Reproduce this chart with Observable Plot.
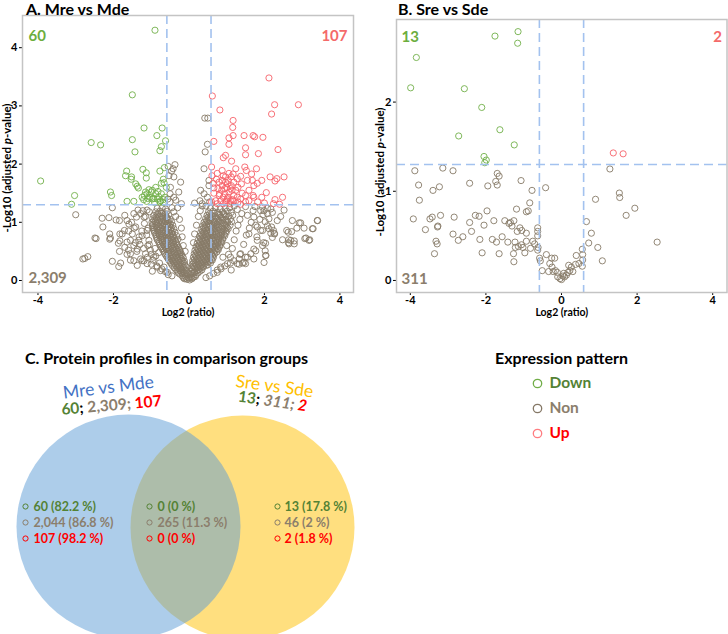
<!DOCTYPE html>
<html>
<head>
<meta charset="utf-8">
<script src="https://cdn.jsdelivr.net/npm/d3@7"></script>
<script src="https://cdn.jsdelivr.net/npm/@observablehq/plot@0.6"></script>
<style>
  body { margin: 0; background: #fff; }
  #fig { position: relative; width: 728px; height: 634px; overflow: hidden; font-family: Lato, "Open Sans", sans-serif; }
  .title { position: absolute; font-weight: bold; color: #000; white-space: nowrap; line-height: 1.15; }
  .panel { position: absolute; }
</style>
</head>
<body>
<div id="fig"></div>
<script>
// ---------- values ----------
const ratioTicks = [-4, -2, 0, 2, 4];
const mreYTicks = [0, 1, 2, 3, 4];
const sreYTicks = [0, 1, 2];
const foldCut = 0.585;   // log2(1.5)
const pCut = 1.301;      // -log10(0.05)
const patterns = ["Down", "Non", "Up"];
const mreCounts = [60, 2309, 107];
const sreCounts = [13, 311, 2];
const groups = ["Mre vs Mde", "Sre vs Sde"];
const onlyMre = [60, 2044, 107];
const onlyMrePct = [82.2, 86.8, 98.2];
const shared = [0, 265, 0];
const sharedPct = [0, 11.3, 0];
const onlySre = [13, 46, 2];
const onlySrePct = [17.8, 2, 1.8];

// Mre vs Mde: [log2 ratio, -log10 adjusted p]
const mreDown = [[-0.90,4.30],[-1.50,3.19],[-2.59,2.37],[-2.34,2.33],[-1.19,2.62],[-0.71,2.62],[-0.85,2.49],[-1.50,2.42],[-0.62,2.40],[-0.73,2.30],[-0.77,2.23],[-1.43,2.21],[-3.93,1.71],[-3.03,1.46],[-3.11,1.31],[-2.08,1.52],[-2.05,1.46],[-1.65,1.88],[-1.68,1.80],[-1.52,1.78],[-1.53,1.74],[-1.22,1.91],[-1.13,1.85],[-1.13,1.76],[-1.41,1.66],[-1.37,1.62],[-1.34,1.59],[-0.77,1.88],[-0.68,1.74],[-0.66,1.68],[-1.64,1.36],[-1.46,1.36],[-1.18,1.46],[-1.20,1.39],[-1.11,1.49],[-1.00,1.52],[-1.04,1.43],[-0.93,1.41],[-0.88,1.49],[-0.82,1.53],[-0.80,1.44],[-0.75,1.37],[-0.68,1.39],[-0.64,1.43],[-0.91,1.34],[-1.12,1.36],[-0.68,1.34],[-0.65,1.94],[-0.97,1.55],[-1.06,1.56],[-1.24,1.43],[-0.84,1.40],[-0.73,1.67],[-1.09,1.41],[-0.60,1.60],[-0.73,1.49],[-0.88,1.60],[-0.97,1.40],[-0.77,1.35],[-1.15,1.52]];
const mreUp = [[2.12,3.48],[0.62,3.17],[2.27,3.02],[2.90,3.02],[2.19,2.86],[0.82,2.93],[1.17,2.75],[1.16,2.63],[1.17,2.49],[1.06,2.45],[0.66,2.39],[1.46,2.49],[1.70,2.49],[1.74,2.47],[1.96,2.46],[1.06,2.34],[1.50,2.28],[2.36,2.25],[1.50,2.16],[1.84,2.18],[0.97,2.15],[0.91,2.11],[0.60,1.95],[1.13,2.05],[1.48,1.95],[1.52,1.89],[1.79,1.92],[0.88,1.89],[1.06,1.84],[0.91,1.80],[1.12,1.78],[1.37,1.79],[2.15,1.78],[2.52,1.78],[1.93,1.72],[2.33,1.75],[2.28,1.71],[1.55,1.72],[1.39,1.66],[1.72,1.63],[1.81,1.67],[0.73,1.74],[0.80,1.69],[0.64,1.67],[0.97,1.69],[1.19,1.69],[0.88,1.63],[1.00,1.60],[1.10,1.58],[1.24,1.55],[1.30,1.60],[1.59,1.55],[0.66,1.50],[0.80,1.46],[0.95,1.49],[1.06,1.52],[1.03,1.43],[1.19,1.46],[1.50,1.46],[1.70,1.46],[2.05,1.51],[2.48,1.43],[2.28,1.39],[2.24,1.32],[2.40,1.31],[2.00,1.33],[1.82,1.35],[1.59,1.37],[1.50,1.35],[1.30,1.35],[1.10,1.37],[0.97,1.36],[0.84,1.37],[0.71,1.37],[0.60,1.35],[0.91,1.43],[1.00,1.37],[1.12,1.63],[1.28,1.43],[1.41,1.50],[0.66,1.59],[0.77,1.58],[0.87,1.55],[0.97,1.78],[1.17,1.83],[1.04,1.72],[1.28,1.75],[1.66,1.83],[1.72,1.43],[1.02,1.66],[0.88,1.72],[1.09,1.32],[1.19,1.37],[1.37,1.40],[0.75,1.32],[0.91,1.32],[1.93,1.43],[1.68,1.72],[1.24,1.92],[0.75,1.84],[0.61,1.80],[1.14,1.55],[0.81,1.49],[1.02,1.40],[1.15,1.39],[0.95,1.58],[1.37,1.31]];
const mreNonOuter = [[-3.00,1.13],[-2.30,1.07],[-2.12,1.08],[-1.93,1.04],[-1.84,1.03],[-1.64,1.03],[-2.28,0.92],[-2.49,0.73],[-2.46,0.72],[-2.10,0.80],[-2.08,0.73],[-1.77,0.80],[-1.71,0.86],[-1.83,0.68],[-1.64,0.66],[-1.70,0.57],[-1.84,0.50],[-2.81,0.37],[-2.76,0.38],[-2.68,0.41],[-2.03,0.33],[-1.86,0.24],[-1.81,0.30],[-1.64,0.45],[-1.46,0.34],[-1.28,0.37],[-1.19,0.34],[-0.97,0.16],[-1.55,0.46],[-1.50,0.80],[-1.41,0.92],[-1.59,0.97],[-1.39,1.09],[-1.46,1.15],[-1.28,1.15],[-1.19,1.09],[-1.35,1.21],[-1.11,1.21],[-2.03,1.25],[-1.55,0.69],[-1.46,0.60],[-1.37,0.54],[-1.33,0.69],[-1.24,0.77],[-1.11,0.86],[-1.06,0.69],[-1.02,0.52],[-0.93,0.40],[-1.15,0.46],[-1.09,0.60],[-2.10,0.71],[-1.87,0.64],[-1.60,0.52],[-1.83,0.80],[-0.84,0.23],[-0.75,0.17],[-0.66,0.23],[-0.57,0.14],[-1.11,0.29],[-1.24,0.34],[-1.37,0.26],
  [-0.55,1.96],[-0.46,1.88],[-0.37,1.99],[-0.42,1.92],[-0.22,1.69],[-0.53,1.80],[-0.40,1.78],[-0.50,1.49],[-0.40,1.43],[-0.27,1.52],[-0.49,1.60],[0.42,2.79],[0.50,2.79],[0.49,2.34],[0.43,2.21],[0.40,1.92],[0.53,1.72],[0.31,1.55],[0.40,1.49],[0.53,1.63],[0.49,1.43],[0.29,1.37],[-0.50,1.35],[-0.35,1.38],[-0.20,1.32],[0.15,1.33],[0.35,1.32],[-0.56,1.40],[0.55,1.35],
  [3.41,1.03],[3.27,0.89],[3.29,0.89],[3.05,0.90],[2.92,0.99],[2.86,0.90],[3.10,0.73],[3.20,0.70],[2.64,0.70],[2.64,0.65],[2.79,0.68],[2.79,0.63],[2.48,0.70],[2.72,0.84],[2.74,1.03],[1.99,0.31],[2.03,0.43],[2.02,0.51],[1.95,0.60],[1.98,0.65],[1.77,0.51],[1.64,0.46],[1.50,0.40],[1.46,0.31],[1.33,0.28],[2.21,0.74],[2.17,0.81],[2.26,0.81],[2.12,0.89],[2.19,0.92],[2.08,0.94],[1.95,0.86],[1.81,0.92],[1.77,0.95],[2.02,1.01],[2.12,1.06],[1.96,1.13],[1.99,1.20],[2.08,1.24],[2.21,1.17],[2.52,1.21],[2.27,0.80],[2.24,0.86],[2.34,1.03],[2.03,0.64],[1.72,0.54],[1.59,0.80],[1.81,0.69],[1.37,0.46],[1.28,0.29],[1.72,0.37],[1.90,0.86],[1.72,1.09],[2.08,1.15],[1.90,1.20],[2.17,1.23],[2.43,1.10],[2.63,0.83],[2.70,0.69],[2.59,0.86],[2.96,0.99],[3.40,1.03],[3.07,0.72],[3.18,0.69],[2.65,0.63],[1.19,0.34],[1.02,0.29],[0.84,0.23],[1.55,0.40],[1.50,0.29],[1.33,0.37],[1.10,0.40],[0.75,0.14],[2.04,0.43]];
const mreNonMid = [[-1.05,0.62],[-1.12,0.78],[-1.20,0.55],[-1.00,0.45],[-0.95,0.35],[-0.90,0.55],[-1.08,0.90],[-1.18,0.98],[-1.25,0.85],[-1.30,0.62],[-1.38,0.50],[-1.32,0.75],[-1.15,1.10],[-1.05,1.18],[-1.22,1.20],[-0.85,0.25],[-0.78,0.30],[-0.72,0.20],[-0.62,0.15],[-0.55,0.10],[-0.45,0.08],[-0.88,0.42],[-0.80,0.48],[-1.00,0.28],[-1.10,0.40],[-1.45,0.90],[-1.52,1.00],[-1.42,0.65],[-1.60,0.85],[-1.70,1.12],[-1.55,0.35],[-0.35,1.10],[-0.40,1.18],[-0.30,1.25],[-0.45,1.25],[-0.25,1.05],[-0.20,0.90],[-0.18,0.75],[-0.15,0.60],[-0.10,0.50],
  [1.10,0.30],[1.05,0.45],[1.15,0.55],[1.20,0.70],[1.25,0.85],[1.30,0.95],[1.35,1.05],[1.40,1.15],[1.28,1.22],[1.45,0.62],[1.52,0.78],[1.60,0.90],[1.65,1.00],[1.55,1.12],[1.70,1.20],[1.80,0.75],[1.88,1.05],[0.95,0.25],[0.85,0.20],[0.75,0.18],[0.65,0.12],[0.55,0.08],[0.45,0.05],[0.90,0.40],[1.00,0.60],[1.35,0.45],[1.42,0.30],[1.12,0.18],[0.20,0.95],[0.15,0.80],[0.12,0.65],[0.25,1.10],[0.30,1.20],[0.35,1.28],[0.45,1.28],[1.20,1.28],[1.50,1.27],[1.75,1.27],[1.95,1.26]];
const mreNonCore = [[-0.12,0.03],[-0.05,0.02],[0.02,0.01],[0.08,0.03],[-0.09,0.07],[0.05,0.06],[0.13,0.06],[-0.18,0.08],[-0.02,0.05],
  [-0.24,0.11],[-0.16,0.12],[-0.08,0.10],[0.04,0.10],[0.11,0.12],[0.19,0.10],
  [-0.31,0.16],[-0.23,0.17],[-0.15,0.15],[-0.07,0.17],[0.06,0.16],[0.14,0.15],[0.22,0.17],[0.29,0.16],
  [-0.39,0.22],[-0.31,0.23],[-0.22,0.21],[-0.14,0.22],[-0.07,0.23],[0.07,0.21],[0.15,0.23],[0.23,0.22],[0.31,0.21],[0.38,0.23],
  [-0.46,0.28],[-0.38,0.29],[-0.29,0.27],[-0.20,0.28],[-0.12,0.29],[0.09,0.28],[0.17,0.29],[0.26,0.27],[0.34,0.28],[0.43,0.29],[0.50,0.27],
  [-0.52,0.34],[-0.44,0.35],[-0.36,0.33],[-0.27,0.34],[-0.19,0.35],[-0.12,0.33],[0.10,0.34],[0.19,0.35],[0.27,0.33],[0.36,0.34],[0.45,0.35],[0.54,0.33],[0.62,0.35],
  [-0.58,0.40],[-0.50,0.41],[-0.41,0.39],[-0.33,0.40],[-0.24,0.41],[-0.15,0.39],[0.12,0.40],[0.20,0.41],[0.29,0.39],[0.38,0.40],[0.47,0.41],[0.56,0.39],[0.65,0.40],
  [-0.64,0.46],[-0.55,0.47],[-0.46,0.45],[-0.38,0.46],[-0.29,0.47],[-0.20,0.45],[0.14,0.46],[0.23,0.47],[0.32,0.45],[0.41,0.46],[0.50,0.47],[0.59,0.45],[0.68,0.46],
  [-0.69,0.52],[-0.60,0.53],[-0.51,0.51],[-0.42,0.52],[-0.33,0.53],[-0.24,0.51],[0.16,0.52],[0.25,0.53],[0.34,0.51],[0.43,0.52],[0.52,0.53],[0.61,0.51],[0.70,0.52],[0.78,0.53],
  [-0.74,0.58],[-0.65,0.59],[-0.56,0.57],[-0.47,0.58],[-0.38,0.59],[-0.28,0.57],[0.19,0.58],[0.28,0.59],[0.37,0.57],[0.46,0.58],[0.55,0.59],[0.64,0.57],[0.73,0.58],[0.82,0.59],
  [-0.79,0.64],[-0.70,0.65],[-0.61,0.63],[-0.52,0.64],[-0.42,0.65],[-0.32,0.63],[0.22,0.64],[0.31,0.65],[0.40,0.63],[0.49,0.64],[0.58,0.65],[0.67,0.63],[0.76,0.64],[0.86,0.65],
  [-0.84,0.70],[-0.74,0.71],[-0.65,0.69],[-0.56,0.70],[-0.46,0.71],[-0.36,0.69],[-0.29,0.71],[0.25,0.70],[0.34,0.71],[0.43,0.69],[0.52,0.70],[0.61,0.71],[0.70,0.69],[0.80,0.70],[0.90,0.71],
  [-0.87,0.76],[-0.78,0.77],[-0.69,0.75],[-0.59,0.76],[-0.50,0.77],[-0.41,0.75],[-0.33,0.77],[0.28,0.76],[0.37,0.77],[0.46,0.75],[0.55,0.76],[0.64,0.77],[0.74,0.75],[0.84,0.76],[0.95,0.77],
  [-0.91,0.82],[-0.82,0.83],[-0.72,0.81],[-0.63,0.82],[-0.54,0.83],[-0.45,0.81],[-0.37,0.83],[0.31,0.82],[0.40,0.83],[0.49,0.81],[0.58,0.82],[0.68,0.83],[0.78,0.81],[0.88,0.82],[0.99,0.83],
  [-0.94,0.88],[-0.85,0.89],[-0.76,0.87],[-0.66,0.88],[-0.57,0.89],[-0.48,0.87],[-0.40,0.89],[0.34,0.88],[0.43,0.89],[0.52,0.87],[0.62,0.88],[0.72,0.89],[0.82,0.87],[0.93,0.88],[1.04,0.89],
  [-0.97,0.94],[-0.87,0.95],[-0.78,0.93],[-0.69,0.94],[-0.60,0.95],[-0.51,0.93],[-0.43,0.95],[0.37,0.94],[0.46,0.95],[0.56,0.93],[0.66,0.94],[0.76,0.95],[0.87,0.93],[0.98,0.94],[1.09,0.95],
  [-0.98,1.00],[-0.89,1.01],[-0.80,0.99],[-0.71,1.00],[-0.62,1.01],[-0.53,0.99],[-0.46,1.01],[0.40,1.00],[0.50,1.01],[0.60,0.99],[0.70,1.00],[0.81,1.01],[0.92,0.99],[1.03,1.00],[1.13,1.01],
  [-0.96,1.06],[-0.86,1.07],[-0.76,1.05],[-0.67,1.06],[-0.58,1.07],[-0.50,1.05],[0.44,1.06],[0.55,1.07],[0.65,1.05],[0.76,1.06],[0.87,1.07],[0.98,1.05],[1.10,1.06],
  [-0.93,1.12],[-0.82,1.13],[-0.72,1.11],[-0.62,1.12],[-0.54,1.13],[0.48,1.12],[0.59,1.13],[0.70,1.11],[0.82,1.12],[0.94,1.13],[1.06,1.11],[1.16,1.12],
  [-0.88,1.18],[-0.77,1.19],[-0.67,1.17],[-0.58,1.19],[0.52,1.18],[0.64,1.19],[0.76,1.17],[0.89,1.18],[1.01,1.19],[1.12,1.17],
  [-0.84,1.24],[-0.71,1.25],[-0.62,1.23],[0.57,1.24],[0.70,1.25],[0.83,1.23],[0.96,1.24],[1.08,1.25]];
const mreNonFill = [[-0.15,0.05],[-0.08,0.04],[0.00,0.04],[0.09,0.05],[0.17,0.07],
  [-0.28,0.13],[-0.20,0.14],[-0.12,0.13],[-0.04,0.12],[0.08,0.13],[0.15,0.14],[0.24,0.13],
  [-0.35,0.19],[-0.27,0.20],[-0.19,0.19],[-0.11,0.18],[0.10,0.19],[0.18,0.20],[0.26,0.19],[0.34,0.18],
  [-0.43,0.25],[-0.35,0.26],[-0.26,0.25],[-0.18,0.24],[-0.10,0.26],[0.11,0.25],[0.20,0.26],[0.29,0.24],[0.38,0.25],[0.46,0.26],
  [-0.49,0.31],[-0.41,0.32],[-0.32,0.30],[-0.24,0.31],[-0.16,0.32],[0.13,0.31],[0.22,0.32],[0.31,0.30],[0.40,0.31],[0.49,0.32],[0.57,0.30],
  [-0.55,0.37],[-0.47,0.38],[-0.38,0.36],[-0.30,0.37],[-0.21,0.38],[0.15,0.37],[0.24,0.38],[0.33,0.36],[0.42,0.37],[0.51,0.38],[0.60,0.36],
  [-0.61,0.43],[-0.52,0.44],[-0.43,0.42],[-0.34,0.43],[-0.25,0.44],[-0.18,0.42],[0.17,0.43],[0.27,0.44],[0.36,0.42],[0.45,0.43],[0.54,0.44],[0.63,0.42],
  [-0.66,0.49],[-0.57,0.50],[-0.48,0.48],[-0.39,0.49],[-0.30,0.50],[-0.22,0.48],[0.20,0.49],[0.29,0.50],[0.38,0.48],[0.47,0.49],[0.56,0.50],[0.65,0.48],[0.74,0.49],
  [-0.71,0.55],[-0.62,0.56],[-0.53,0.54],[-0.44,0.55],[-0.35,0.56],[-0.26,0.54],[0.23,0.55],[0.32,0.56],[0.41,0.54],[0.50,0.55],[0.59,0.56],[0.68,0.54],[0.77,0.55],
  [-0.76,0.61],[-0.67,0.62],[-0.58,0.60],[-0.49,0.61],[-0.40,0.62],[-0.31,0.60],[0.26,0.61],[0.35,0.62],[0.44,0.60],[0.53,0.61],[0.62,0.62],[0.71,0.60],[0.81,0.61],
  [-0.80,0.67],[-0.71,0.68],[-0.61,0.66],[-0.52,0.67],[-0.43,0.68],[-0.34,0.66],[0.29,0.67],[0.38,0.68],[0.47,0.66],[0.57,0.67],[0.66,0.68],[0.75,0.66],[0.85,0.67],
  [-0.85,0.73],[-0.75,0.74],[-0.66,0.72],[-0.56,0.73],[-0.47,0.74],[-0.38,0.72],[0.31,0.73],[0.41,0.74],[0.50,0.72],[0.60,0.73],[0.69,0.74],[0.79,0.72],[0.89,0.73],
  [-0.88,0.79],[-0.79,0.80],[-0.69,0.78],[-0.60,0.79],[-0.51,0.80],[-0.42,0.78],[0.34,0.79],[0.44,0.80],[0.53,0.78],[0.63,0.79],[0.73,0.80],[0.83,0.78],[0.93,0.79],
  [-0.92,0.85],[-0.82,0.86],[-0.72,0.84],[-0.62,0.85],[-0.53,0.86],[-0.44,0.84],[0.37,0.85],[0.47,0.86],[0.57,0.84],[0.67,0.85],[0.77,0.86],[0.87,0.84],[0.98,0.85],
  [-0.95,0.91],[-0.85,0.92],[-0.75,0.90],[-0.65,0.91],[-0.56,0.92],[-0.47,0.90],[0.40,0.91],[0.50,0.92],[0.60,0.90],[0.70,0.91],[0.80,0.92],[0.90,0.90],[1.01,0.91],
  [-0.96,0.97],[-0.86,0.98],[-0.76,0.96],[-0.66,0.97],[-0.57,0.98],[-0.49,0.96],[0.43,0.97],[0.53,0.98],[0.63,0.96],[0.74,0.97],[0.85,0.98],[0.96,0.96],
  [-0.93,1.03],[-0.83,1.04],[-0.73,1.02],[-0.63,1.03],[-0.55,1.04],[0.47,1.03],[0.57,1.04],[0.68,1.02],[0.79,1.03],[0.90,1.04],[1.01,1.02],
  [-0.88,1.09],[-0.78,1.10],[-0.68,1.08],[-0.59,1.09],[0.51,1.09],[0.62,1.10],[0.73,1.08],[0.85,1.09],[0.97,1.10],
  [-0.83,1.15],[-0.72,1.16],[-0.63,1.14],[0.55,1.15],[0.67,1.16],[0.79,1.14],[0.92,1.15]];

// Sre vs Sde
const sreDown = [[-1.15,2.79],[-1.16,2.66],[-1.76,2.74],[-3.84,2.50],[-3.99,2.16],[-2.57,2.15],[-2.11,1.94],[-1.63,1.69],[-2.72,1.62],[-1.25,1.52],[-2.05,1.39],[-1.99,1.35],[-2.03,1.32]];
const sreUp = [[1.37,1.43],[1.63,1.42]];
const sreNon = [[-3.88,1.23],[-3.14,1.26],[-2.87,1.23],[-1.70,1.20],[-1.65,1.17],[-1.74,1.11],[-1.70,1.07],[-1.07,1.12],[-3.78,1.07],[-2.43,1.09],[-1.95,1.06],[-0.78,1.01],[-0.42,1.04],[-3.40,1.01],[-3.23,1.05],[-3.76,0.90],[-0.84,0.87],[-0.88,0.78],[-0.93,0.77],[-1.19,0.80],[-1.97,0.78],[-3.92,0.69],[-3.42,0.71],[-3.48,0.69],[-3.20,0.73],[-2.84,0.71],[-2.43,0.65],[-2.28,0.73],[-2.18,0.72],[-2.05,0.62],[-1.79,0.67],[-1.50,0.67],[-1.39,0.64],[-1.35,0.65],[-1.26,0.67],[-1.31,0.61],[-1.10,0.59],[-1.05,0.56],[-1.17,0.55],[-3.60,0.57],[-3.27,0.61],[-3.28,0.60],[-2.87,0.52],[-2.61,0.49],[-2.73,0.45],[-2.38,0.55],[-2.16,0.46],[-1.83,0.46],[-1.72,0.43],[-1.57,0.49],[-1.42,0.43],[-1.23,0.43],[-1.22,0.37],[-1.14,0.38],[-1.06,0.40],[-1.02,0.37],[-0.93,0.44],[-0.93,0.53],[-0.76,0.44],[-0.71,0.41],[-0.63,0.55],[-0.63,0.50],[-0.62,0.37],[-0.58,0.25],[-0.56,0.22],[-0.82,0.36],[-0.97,0.31],[-1.27,0.30],[-1.26,0.21],[-2.10,0.31],[-1.65,0.30],[-3.36,0.30],[-3.29,0.41],[-3.32,0.44],[-0.51,0.11],[-0.40,0.29],[-0.26,0.25],[-0.18,0.25],[-0.31,0.19],[-0.25,0.15],[-0.34,0.10],[-0.22,0.10],[-0.16,0.11],[-0.11,0.09],[-0.10,0.04],[-0.04,0.02],[0.00,0.01],[0.06,0.08],[0.13,0.06],[0.17,0.09],[0.22,0.11],[0.19,0.17],[0.26,0.15],[0.30,0.10],[0.37,0.18],[0.39,0.28],[0.46,0.19],[0.55,0.35],[0.56,0.29],[0.56,0.23],[0.55,0.16],[0.66,0.66],[0.72,0.42],[0.79,0.53],[0.96,0.37],[0.90,0.91],[1.08,0.22],[1.28,1.25],[1.53,0.98],[1.54,0.93],[1.71,0.73],[1.94,0.81],[2.53,0.43],[0.04,0.05],[0.08,0.04],[-0.63,0.59],[-0.63,0.34]];

// ---------- styles ----------
const cGreenDot = "#72b04a", cGreyDot = "#877a68", cRedDot = "#f6626a";
const cGreenTxt = "#548235", cGreyTxt = "#8b7e6c", cRedTxt = "#ff0000";
const cRule = "#a3c2ef";
const fmt = d3.format(",");

// Recolour / italicise parts of a single SVG text element
function styleRuns(svg, full, runs) {
  for (const t of svg.querySelectorAll("text")) {
    if (t.textContent !== full) continue;
    t.textContent = "";
    for (const r of runs) {
      const s = document.createElementNS("http://www.w3.org/2000/svg", "tspan");
      s.textContent = r.text;
      if (r.fill) s.setAttribute("fill", r.fill);
      if (r.italic) s.setAttribute("font-style", "italic");
      t.appendChild(s);
    }
  }
}

const yLabel = "-Log10 (adjusted p-value)";

function volcano(o) {
  const dots = (data, stroke) => Plot.dot(data, {x: d => d[0], y: d => d[1], r: 3.1, stroke, strokeWidth: 0.9, fill: "none"});
  const svg = Plot.plot({
    width: o.width, height: o.height,
    marginLeft: o.m[0], marginRight: o.m[1], marginTop: o.m[2], marginBottom: o.m[3],
    style: {fontFamily: "Lato, 'Open Sans', sans-serif", fontWeight: "bold", fontSize: "11px", color: "#000", background: "transparent", overflow: "visible"},
    x: {domain: o.xDomain, ticks: ratioTicks, tickSize: 3, tickPadding: 1, label: null, tickFormat: d => String(d)},
    y: {domain: o.yDomain, ticks: o.yTicks, tickSize: 3, tickPadding: 2, label: null, tickFormat: d => String(d)},
    marks: [
      dots(o.non, cGreyDot),
      dots(o.down, cGreenDot),
      dots(o.up, cRedDot),
      Plot.ruleX([-foldCut, foldCut], {stroke: cRule, strokeWidth: 1.6, strokeDasharray: "9,5"}),
      Plot.ruleY([pCut], {stroke: cRule, strokeWidth: 1.6, strokeDasharray: "9,5"}),
      Plot.frame({stroke: "#c4c4c4", strokeWidth: 1.5}),
      Plot.text([o.counts[0]], {frameAnchor: "top-left", text: d => fmt(d), dx: o.cdx, dy: o.cdy, textAnchor: "start", fill: "#6cae3e", fontSize: 15, fontWeight: "bold"}),
      Plot.text([o.counts[2]], {frameAnchor: "top-right", text: d => fmt(d), dx: -o.cdx, dy: o.cdy, textAnchor: "end", fill: "#f46a6a", fontSize: 15, fontWeight: "bold"}),
      Plot.text([o.counts[1]], {frameAnchor: "bottom-left", text: d => fmt(d), dx: o.cdx, dy: -o.bdy, textAnchor: "start", fill: cGreyTxt, fontSize: 15, fontWeight: "bold"}),
      Plot.text(["Log2 (ratio)"], {frameAnchor: "bottom", text: d => d, dy: 23, fontSize: 10.5, fontWeight: "bold"}),
      Plot.text([yLabel], {frameAnchor: "left", text: d => d, rotate: -90, dx: o.ldx, dy: o.ldy, textAnchor: "middle", fontSize: 11.5, fontWeight: "bold"})
    ]
  });
  styleRuns(svg, yLabel, [{text: "-Log10 (adjusted "}, {text: "p", italic: true}, {text: "-value)"}]);
  return svg;
}

const fig = document.getElementById("fig");
function place(el, left, top) {
  const wrap = document.createElement("div");
  wrap.className = "panel";
  wrap.style.left = left + "px";
  wrap.style.top = top + "px";
  wrap.appendChild(el);
  fig.appendChild(wrap);
}
function title(text, left, top, size) {
  const d = document.createElement("div");
  d.className = "title";
  d.style.left = left + "px";
  d.style.top = top + "px";
  d.style.fontSize = size + "px";
  d.textContent = text;
  fig.appendChild(d);
}

// ---------- A. Mre vs Mde ----------
place(volcano({
  width: 364, height: 320, m: [22, 11, 15, 28],
  xDomain: [-4.41, 4.36], yDomain: [-0.206, 4.553], yTicks: mreYTicks,
  down: mreDown, up: mreUp, non: [...mreNonOuter, ...mreNonMid, ...mreNonCore, ...mreNonFill],
  counts: mreCounts, cdx: 6, cdy: 15, bdy: 10, ldx: -15, ldy: 14
}), 0, 0);
title("A. Mre vs Mde", 26, 0, 16);

// ---------- B. Sre vs Sde ----------
place(volcano({
  width: 364, height: 320, m: [32, 1.5, 19, 28],
  xDomain: [-4.365, 4.378], yDomain: [-0.135, 2.926], yTicks: sreYTicks,
  down: sreDown, up: sreUp, non: sreNon,
  counts: sreCounts, cdx: 5, cdy: 12, bdy: 9, ldx: -16, ldy: 16
}), 364, 0);
title("B. Sre vs Sde", 398, 0, 16);

// ---------- C. Venn diagram + legend ----------
title("C. Protein profiles in comparison groups", 25, 349, 16);

const venn = {
  r: 112,
  circles: [
    {group: groups[1], cx: 242, cy: 527, fill: "#ffc000"},
    {group: groups[0], cx: 128, cy: 526, fill: "#5b9bd5"}
  ],
  names: [
    {text: groups[0], x: 108, y: 387, rotate: -7, fill: "#4472c4"},
    {text: groups[1], x: 274, y: 386, rotate: 8, fill: "#ffc000"}
  ],
  totals: [
    {counts: mreCounts, x: 111, y: 405, rotate: -5, italic: false},
    {counts: sreCounts, x: 272, y: 401, rotate: 8, italic: true}
  ],
  columns: [
    {mx: 25, tx: 33, values: onlyMre, pct: onlyMrePct},
    {mx: 149, tx: 157, values: shared, pct: sharedPct},
    {mx: 277, tx: 284, values: onlySre, pct: onlySrePct}
  ],
  rowY: [506, 522, 538]
};
const txtColors = [cGreenTxt, cGreyTxt, cRedTxt];
const dotColors = ["#70ad47", "#857866", "#ff7c80"];

const listRows = venn.columns.flatMap(c => c.values.map((v, i) => ({
  mx: c.mx, tx: c.tx, y: venn.rowY[i], color: txtColors[i], label: `${fmt(v)} (${c.pct[i]} %)`
})));
const legend = {x: 537, tx: 549, y: [383, 408, 433], titleX: 561, titleY: 358};
const legendRows = patterns.map((p, i) => ({label: p, y: legend.y[i], color: txtColors[i], dot: dotColors[i]}));
const totalsText = t => t.counts.map(fmt).join("; ");

const bottom = Plot.plot({
  width: 728, height: 314, margin: 0,
  x: {domain: [0, 728], range: [0, 728], axis: null},
  y: {domain: [320, 634], range: [0, 314], axis: null},
  color: {type: "identity"},
  style: {fontFamily: "Lato, 'Open Sans', sans-serif", background: "transparent", overflow: "visible"},
  marks: [
    venn.circles.map(c => Plot.dot([c], {x: "cx", y: "cy", r: venn.r, fill: c.fill, fillOpacity: 0.5, stroke: "none"})),
    venn.names.map(n => Plot.text([n], {x: "x", y: "y", text: "text", rotate: n.rotate, fill: n.fill, fontSize: 17.5})),
    venn.totals.map(t => Plot.text([t], {x: "x", y: "y", text: totalsText, rotate: t.rotate, fontSize: 15.5, fontWeight: "bold"})),
    Plot.dot(listRows, {x: "mx", y: "y", r: 2.6, stroke: "color", strokeWidth: 1, fill: "none"}),
    Plot.text(listRows, {x: "tx", y: "y", text: "label", fill: "color", textAnchor: "start", fontSize: 12.5, fontWeight: "bold"}),
    Plot.text(["Expression pattern"], {x: () => legend.titleX, y: () => legend.titleY, text: d => d, fontSize: 16, fontWeight: "bold", fill: "#000"}),
    Plot.dot(legendRows, {x: () => legend.x, y: "y", r: 4.2, stroke: "dot", strokeWidth: 1.3, fill: "none"}),
    Plot.text(legendRows, {x: () => legend.tx, y: "y", text: "label", fill: "color", textAnchor: "start", fontSize: 15.5, fontWeight: "bold"})
  ]
});
venn.totals.forEach(t => {
  const parts = t.counts.map(fmt);
  styleRuns(bottom, totalsText(t), [
    {text: parts[0], fill: cGreenTxt},
    {text: "; ", fill: "#000"},
    {text: parts[1] + "; ", fill: cGreyTxt, italic: t.italic},
    {text: parts[2], fill: cRedTxt, italic: t.italic}
  ]);
});
place(bottom, 0, 320);
</script>
</body>
</html>
